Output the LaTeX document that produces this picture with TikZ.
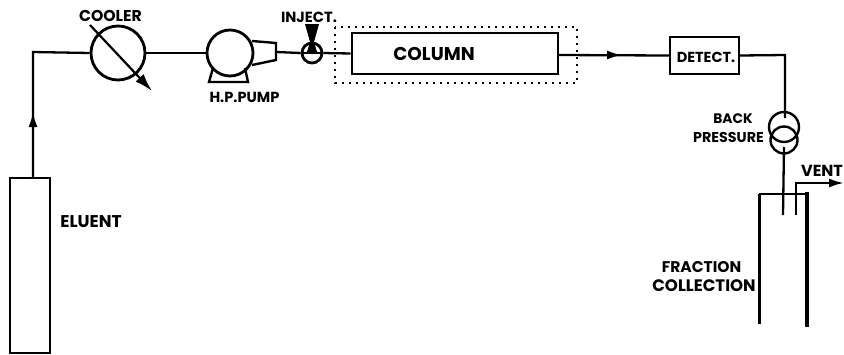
\documentclass[tikz,border=0pt]{standalone}
\usepackage{fontspec}
\setmainfont{Poppins}
\usetikzlibrary{arrows.meta}
\tikzset{
  x=1pt,y=-1pt,
  pipe/.style={line width=2.3pt,line join=miter},
  ves/.style={line width=2.4pt},
  lab/.style={inner sep=0pt,font=\fontsize{#1}{#1}\selectfont\bfseries},
  lab/.default=15,
  tip/.style={-{Latex[length=15pt,width=9pt]}}
}
\begin{document}
\begin{tikzpicture}
\useasboundingbox (0,0) rectangle (844,354);
% nodes
\node[draw,ves,minimum width=40pt,minimum height=175pt,inner sep=0pt] (eluent) at (30,265.5) {};
\node[draw,ves,line width=2.8pt,circle,minimum size=54pt,inner sep=0pt] (cooler) at (118,53) {};
\node[draw,ves,line width=2.8pt,circle,minimum size=46pt,inner sep=0pt] (pump) at (230,53) {};
\node[draw,ves,line width=2.8pt,circle,minimum size=20pt,inner sep=0pt] (inj) at (312,53) {};
\node[draw,ves,line width=2.6pt,minimum width=206pt,minimum height=41pt,inner sep=0pt] (col) at (455,53.5) {};
\node[draw,ves,minimum width=69pt,minimum height=37pt,inner sep=0pt] (det) at (704.5,55.5) {};
\node[draw,ves,circle,minimum size=30pt,inner sep=0pt] (bpa) at (784,127) {};
\node[draw,ves,circle,minimum size=27pt,inner sep=0pt] (bpb) at (784,140) {};
\coordinate (outlet) at (276,52);
\coordinate (corner) at (33,52);
\coordinate (arrowtip) at (33,112);
\coordinate (colout) at (558,55);
\coordinate (colarrow) at (622,55);
\coordinate (cornerb) at (785,55);
\coordinate (bpin) at (785,118);
\coordinate (bpout) at (784,147);
\coordinate (dip) at (783,215);
\coordinate (ventlow) at (796,215);
\coordinate (ventc) at (796,183);
\coordinate (ventend) at (844,183);
% labels
\node[lab=15.7] (tcool) at (110.5,16) {COOLER};
\node[lab=14.7] (tinj) at (309,17) {INJECT.};
\node[lab=14.6] (tpump) at (244.5,97) {H.P.PUMP};
\node[lab=18.5] (tcol) at (434,54) {COLUMN};
\node[lab=14.5] (tdet) at (706,57) {DETECT.};
\node[lab=13.8] (tback) at (733,119) {BACK};
\node[lab=14.3] (tpres) at (728.5,137) {PRESSURE};
\node[lab=16] (tvent) at (822,171) {VENT};
\node[lab=17] (tel) at (91,222) {ELUENT};
\node[lab=15.5] (tfr) at (701.5,267) {FRACTION};
\node[lab=16.6] (tcl) at (704,286) {COLLECTION};
% connectors
\draw[pipe] (eluent.north -| corner) -- (corner) -- (cooler.west);
\draw[pipe,tip] (eluent.north -| corner) -- (arrowtip);
\draw[pipe] (cooler.east) -- (pump.west);
\draw[pipe] (outlet) -- (inj.west);
\draw[pipe] (inj.west) -- (inj.east);
\draw[pipe] (inj.east) -- (col.west);
\draw[pipe] (colout) -- (det.west);
\draw[pipe,tip] (colout) -- (colarrow);
\draw[pipe] (det.east) -- (cornerb) -- (bpin);
\draw[pipe] (bpout) -- (dip);
\draw[pipe,tip] (ventlow) -- (ventc) -- (ventend);
% cooler valve arrow
\draw[line width=2.2pt,-{Latex[length=18pt,width=11pt]}] (90,25) -- (152,91);
% pump body
\draw[ves] (252,41) -- (276,43) -- (276,60) -- (252,65);
\draw[ves] (213,68) -- (209,82) -- (248,82) -- (245,68);
% injector wedge
\fill (305,24) -- (319,24) -- (314,42) -- (317,52) -- (307,52) -- (310,42) -- cycle;
% oven box
\draw[line width=1.8pt,dash pattern=on 2pt off 5pt] (335,27) rectangle (577,83);
% fraction vessel
\draw[line width=3pt] (759,194) -- (759,324);
\draw[line width=3.5pt] (807,192) -- (807,327);
\draw[pipe] (759,194) -- (807,194);
\end{tikzpicture}
\end{document}
